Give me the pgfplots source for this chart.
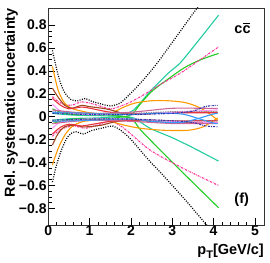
\documentclass[border=0pt]{standalone}
\usepackage{fontspec}
\setmainfont{Liberation Sans}
\usepackage{pgfplots}
\pgfplotsset{compat=1.18}
\definecolor{corange}{HTML}{FF9900}
\definecolor{cbrown}{HTML}{A0461E}
\definecolor{cpink}{HTML}{FF3399}
\definecolor{cgreen}{HTML}{22CC22}
\definecolor{cteal}{HTML}{22CCA0}
\definecolor{cblue}{HTML}{3399FF}
\definecolor{cnavy}{HTML}{3333AA}
\definecolor{cviolet}{HTML}{FF99FF}
\definecolor{cmauve}{HTML}{CC6699}
\definecolor{cred}{HTML}{E8323C}
\begin{document}
\begin{tikzpicture}
\begin{axis}[
  scale only axis, width=215.7pt, height=217pt,
  xmin=0, xmax=5.22, ymin=-0.945, ymax=0.95,
  xtick={0,1,2,3,4,5}, minor x tick num=4,
  ytick={-0.8,-0.6,-0.4,-0.2,0,0.2,0.4,0.6,0.8},
  yticklabels={−0.8,−0.6,−0.4,−0.2,0,0.2,0.4,0.6,0.8},
  minor y tick num=3,
  tick align=inside, xtick pos=bottom, ytick pos=left,
  major tick length=6.5pt, minor tick length=3.3pt,
  tick style={black, line width=0.6pt},
  axis line style={black!80, line width=0.8pt},
  /pgf/number format/assume math mode=true,
  ticklabel style={font=\bfseries\fontsize{14}{14}\selectfont},
  xticklabel style={inner sep=1pt},
  yticklabel style={inner sep=1.5pt},
  xlabel={p\raisebox{-4pt}{\fontsize{11}{11}\selectfont T}[GeV/c]},
  ylabel={Rel. systematic uncertainty},
  xlabel style={at={(rel axis cs:1,0)}, anchor=north east, yshift=-19pt, inner sep=0pt, font=\bfseries\fontsize{14.5}{14.5}\selectfont},
  ylabel style={at={(rel axis cs:-0.14,1)}, anchor=south east, inner sep=0pt, font=\bfseries\fontsize{14.5}{14.5}\selectfont},
  every axis plot/.append style={line width=1.1pt, smooth},
]
% black dotted envelope
\addplot[black, line width=1.2pt, dash pattern=on 1pt off 1.4pt] coordinates {(0.1,0.58)(0.2,0.42)(0.3,0.29)(0.4,0.21)(0.55,0.15)(0.72,0.14)(0.89,0.16)(1.05,0.135)(1.3,0.11)(1.5,0.095)(1.74,0.12)(1.98,0.2)(2.22,0.29)(2.46,0.39)(2.7,0.5)(3.0,0.65)(3.3,0.8)(3.6,0.95)(4.1,1.2)};
\addplot[black, line width=1.2pt, dash pattern=on 1pt off 1.4pt] coordinates {(0.1,-0.57)(0.2,-0.42)(0.33,-0.28)(0.48,-0.17)(0.65,-0.13)(0.85,-0.15)(1.05,-0.12)(1.35,-0.095)(1.55,-0.08)(1.74,-0.115)(1.98,-0.19)(2.22,-0.29)(2.46,-0.39)(2.75,-0.5)(3.3,-0.72)(3.82,-0.94)(4.1,-1.05)};
% teal
\addplot[cteal] coordinates {(0.1,0.03)(0.6,0.015)(1.2,0.01)(1.7,0.01)(2.06,0.058)(2.46,0.22)(2.9,0.38)(3.19,0.47)(3.6,0.65)(4.12,0.887)};
\addplot[cteal] coordinates {(0.1,-0.03)(0.6,-0.015)(1.2,-0.01)(1.7,0.0)(2.06,-0.01)(2.46,-0.1)(2.95,-0.175)(3.19,-0.215)(3.5,-0.27)(4.12,-0.387)};
% green
\addplot[cgreen] coordinates {(0.1,0.07)(0.3,0.04)(0.6,0.02)(1.0,0.02)(1.5,0.015)(1.85,0.0)(2.05,0.03)(2.2,0.1)(2.5,0.22)(2.9,0.33)(3.3,0.43)(3.7,0.5)(4.12,0.553)};
\addplot[cgreen] coordinates {(0.1,-0.06)(0.3,-0.04)(0.6,-0.02)(1.0,-0.02)(1.5,-0.015)(1.85,0.0)(2.06,-0.03)(2.26,-0.125)(3.11,-0.436)(4.12,-0.794)};
% pink dash-dot
\addplot[cpink, dash pattern=on 2pt off 1pt on 0.6pt off 1pt] coordinates {(0.1,0.175)(0.3,0.12)(0.55,0.1)(0.81,0.13)(1.1,0.11)(1.5,0.07)(1.8,0.1)(2.0,0.13)(2.3,0.19)(2.7,0.28)(3.19,0.38)(3.6,0.48)(4.12,0.61)};
\addplot[cpink, dash pattern=on 2pt off 1pt on 0.6pt off 1pt] coordinates {(0.1,-0.17)(0.3,-0.11)(0.6,-0.08)(0.9,-0.1)(1.2,-0.07)(1.5,-0.04)(1.75,-0.08)(1.98,-0.145)(2.46,-0.29)(3.1,-0.42)(3.6,-0.51)(4.12,-0.6)};
% orange
\addplot[corange] coordinates {(0.1,0.44)(0.24,0.23)(0.4,0.117)(0.57,0.073)(0.8,0.05)(1.1,0.03)(1.5,0.03)(1.8,0.08)(2.1,0.12)(2.5,0.14)(2.9,0.14)(3.3,0.125)(3.6,0.09)(3.85,0.04)(4.1,-0.03)};
\addplot[corange] coordinates {(0.1,-0.42)(0.24,-0.276)(0.4,-0.16)(0.57,-0.087)(0.81,-0.044)(1.1,-0.03)(1.4,-0.03)(1.8,-0.07)(2.22,-0.1)(2.7,-0.116)(3.1,-0.12)(3.43,-0.116)(3.75,-0.087)(4.1,-0.01)};
% brown
\addplot[cbrown] coordinates {(0.1,0.25)(0.24,0.17)(0.4,0.1)(0.57,0.075)(0.81,0.1)(0.97,0.09)(1.33,0.073)(1.53,0.058)(1.82,0.03)(2.2,0.02)(2.6,0.03)(3.0,0.04)(3.5,0.04)(4.1,0.04)};
\addplot[cbrown] coordinates {(0.1,-0.247)(0.24,-0.145)(0.4,-0.087)(0.65,-0.073)(0.81,-0.087)(0.97,-0.087)(1.29,-0.073)(1.61,-0.044)(2.0,-0.03)(2.5,-0.04)(3.0,-0.05)(3.5,-0.05)(4.1,-0.05)};
% red
\addplot[cred] coordinates {(0.1,0.16)(0.3,0.1)(0.5,0.07)(0.8,0.085)(1.0,0.075)(1.5,0.04)(2.0,0.03)(2.5,0.03)(3.0,0.035)(3.5,0.035)(4.1,0.035)};
\addplot[cred] coordinates {(0.1,-0.15)(0.3,-0.09)(0.5,-0.065)(0.8,-0.08)(1.0,-0.07)(1.5,-0.04)(2.0,-0.03)(2.5,-0.03)(3.0,-0.035)(3.5,-0.035)(4.1,-0.035)};
% violet
\addplot[cviolet] coordinates {(0.1,0.11)(0.3,0.05)(0.6,0.03)(1.0,0.02)(2.0,0.02)(3.0,0.04)(4.1,0.06)};
\addplot[cviolet] coordinates {(0.1,-0.1)(0.3,-0.045)(0.6,-0.03)(1.0,-0.02)(2.0,-0.02)(3.0,-0.04)(4.1,-0.05)};
% mauve
\addplot[cmauve] coordinates {(0.1,0.06)(0.6,0.04)(1.2,0.03)(2.0,0.04)(2.95,0.073)(3.5,0.075)(4.1,0.073)};
\addplot[cmauve] coordinates {(0.1,-0.06)(0.6,-0.04)(1.2,-0.03)(2.0,-0.04)(2.95,-0.058)(3.5,-0.06)(4.1,-0.058)};
% blue
\addplot[cblue] coordinates {(0.1,0.04)(1.0,0.03)(2.0,0.02)(2.5,0.03)(3.0,0.03)(3.3,0.02)(3.63,-0.015)(4.0,-0.055)(4.1,-0.06)};
\addplot[cblue] coordinates {(0.1,-0.04)(1.0,-0.03)(2.0,-0.02)(2.5,-0.04)(3.0,-0.05)(3.3,-0.045)(3.63,-0.015)(4.0,0.025)(4.1,0.03)};
% gray dotted
\addplot[black!45, dash pattern=on 1pt off 1.4pt] coordinates {(0.1,0.045)(1.0,0.03)(2.0,0.03)(3.0,0.045)(4.1,0.045)};
\addplot[black!45, dash pattern=on 1pt off 1.4pt] coordinates {(0.1,-0.04)(1.0,-0.025)(2.0,-0.025)(3.0,-0.035)(4.1,-0.035)};
% navy dash-dot
\addplot[cnavy, dash pattern=on 2pt off 1pt on 0.6pt off 1pt] coordinates {(0.1,0.03)(1.0,0.02)(2.0,0.02)(3.0,0.03)(3.5,0.05)(3.8,0.09)(4.1,0.1)};
\addplot[cnavy, dash pattern=on 2pt off 1pt on 0.6pt off 1pt] coordinates {(0.1,-0.03)(1.0,-0.02)(2.0,-0.02)(3.0,-0.035)(3.5,-0.05)(3.8,-0.08)(4.1,-0.087)};
\node[anchor=base west, inner sep=0pt, font=\bfseries\fontsize{14.5}{14.5}\selectfont] at (axis cs:4.5,0.73) {c\rlap{\hspace{0.04em}\rule[0.62em]{0.48em}{0.8pt}}c};
\node[anchor=base west, inner sep=0pt, font=\bfseries\fontsize{14.5}{14.5}\selectfont] at (axis cs:4.5,-0.755) {(f)};
\end{axis}
\pgfresetboundingbox
\path ([shift={(-48.3pt,-37pt)}]current axis.south west) rectangle ([shift={(6pt,8pt)}]current axis.north east);
\end{tikzpicture}
\end{document}
